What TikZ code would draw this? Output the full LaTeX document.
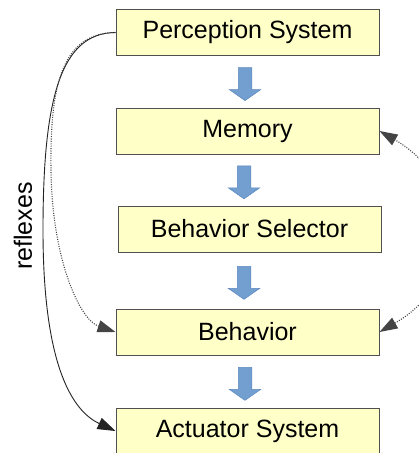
\documentclass[tikz,border=0pt]{standalone}
\usepackage{fontspec}
\setmainfont{Liberation Sans}
\usetikzlibrary{arrows.meta,shapes.arrows,calc}

\definecolor{boxfill}{RGB}{255,255,200}
\definecolor{boxline}{RGB}{80,80,80}
\definecolor{flowfill}{RGB}{114,159,207}
\definecolor{flowline}{RGB}{92,135,190}
\definecolor{linkline}{RGB}{35,35,35}

\tikzset{
  stage/.style={draw=boxline, line width=1pt, fill=boxfill,
    minimum width=263pt, minimum height=46pt, inner sep=0pt,
    font=\fontsize{25}{30}\selectfont},
  flow/.style={single arrow, shape border rotate=270, fill=flowfill,
    draw=flowline, line width=0.5pt, inner sep=6.5pt,
    minimum height=33pt, single arrow head extend=9pt,
    single arrow tip angle=110, single arrow head indent=0pt},
  head/.tip={Triangle[length=18pt,width=12pt]},
  reflex/.style={draw=linkline, line width=0.9pt, -head},
  hint/.style={draw=linkline!85, line width=1.1pt,
    dash pattern=on 1pt off 1.4pt},
}

\begin{document}
\begin{tikzpicture}[x=1pt, y=-1pt]
  \useasboundingbox (0,0) rectangle (419,453);

  % processing stages
  \node[stage] (per) at (247.5,32.5) {Perception System};
  \node[stage] (mem) at (247.5,131)  {Memory};
  \node[stage] (sel) at (249.5,229)  {Behavior Selector};
  \node[stage] (beh) at (247.5,332)  {Behavior};
  \node[stage] (act) at (247.5,431)  {Actuator System};

  % block arrows between consecutive stages
  \node[flow, xshift=-2.5pt] (f1) at ($(per.south)!0.5!(mem.north)$) {};
  \node[flow, xshift=-4.5pt] (f2) at ($(mem.south)!0.5!(sel.north)$) {};
  \node[flow, xshift=-4.5pt] (f3) at ($(sel.south)!0.5!(beh.north)$) {};
  \node[flow, xshift=-2.5pt] (f4) at ($(beh.south)!0.5!(act.north)$) {};

  % reflex path from perception straight to the actuators
  \coordinate (sbend) at (43,230);
  \draw[reflex] (per.west) .. controls (60,33) and (43,100) .. (sbend)
    .. controls (43,360) and (70,410) .. (act.west);

  % dotted link from perception to behavior
  \coordinate (dbend) at (51,170);
  \draw[hint, -head] (per.west) .. controls (60,33) and (50,90) .. (dbend)
    .. controls (52,260) and (80,320) .. (beh.west);

  % dotted link between behavior and memory
  \draw[hint, head-head]
    (beh.east) .. controls (470,280) and (465,180) .. (mem.east);

  \node[rotate=90, font=\fontsize{25}{30}\selectfont] (lbl) at (23,226) {reflexes};
\end{tikzpicture}
\end{document}
